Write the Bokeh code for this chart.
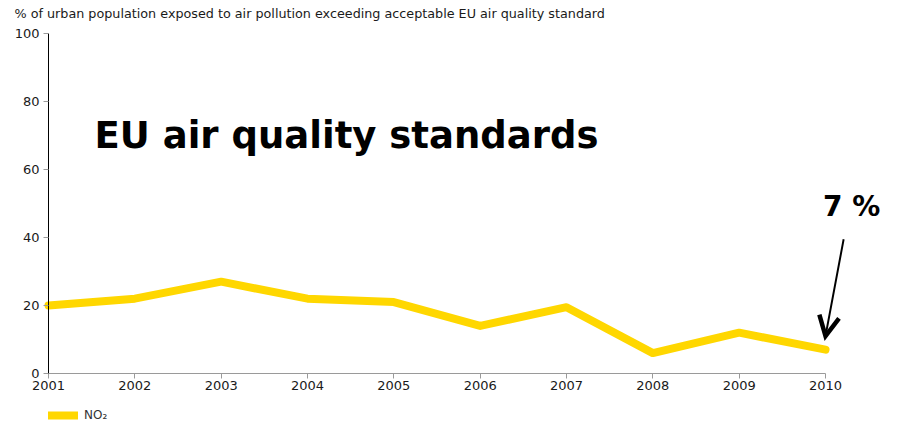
from bokeh.plotting import figure
from bokeh.models import (Range1d, Label, Arrow, OpenHead, Legend, LegendItem,
                          FixedTicker)
from bokeh.embed import file_html
from bokeh.resources import INLINE

# Share of urban population exposed to NO2 above the EU standard
years = [2001, 2002, 2003, 2004, 2005, 2006, 2007, 2008, 2009, 2010]
no2_share = [20, 22, 27, 22, 21, 14, 19.5, 6, 12, 7]
y_ticks = [0, 20, 40, 60, 80, 100]

caption = "% of urban population exposed to air pollution exceeding acceptable EU air quality standard"
headline = "EU air quality standards"
series_name = "NO\u2082"

FONT = "DejaVu Sans"
TEXT = "#1a1a1a"
YELLOW = "#FFD700"

# The frame fills the whole canvas; the axes are pinned at the first year
# and at zero, leaving room around them for the caption, callout and legend.
p = figure(width=899, height=424, output_backend="svg", toolbar_location=None,
           x_range=Range1d(2000.444, 2010.857), y_range=Range1d(-15.0, 109.7),
           min_border=0)
p.outline_line_color = None
p.xgrid.grid_line_color = None
p.ygrid.grid_line_color = None
p.background_fill_color = "white"
p.border_fill_color = "white"

# x axis: grey baseline with year ticks
p.xaxis.fixed_location = 0
p.xaxis.ticker = FixedTicker(ticks=years)
p.xaxis.bounds = (years[0], years[-1])
p.xaxis.axis_line_color = "#9a9a9a"
p.xaxis.major_tick_line_color = "#9a9a9a"
p.xaxis.major_tick_out = 5
p.xaxis.major_tick_in = 0
p.xaxis.minor_tick_line_color = None
p.xaxis.major_label_text_font = FONT
p.xaxis.major_label_text_font_size = "13px"
p.xaxis.major_label_text_color = TEXT
p.xaxis.major_label_standoff = 3

# y axis: black line, grey ticks
p.yaxis.fixed_location = years[0]
p.yaxis.ticker = FixedTicker(ticks=y_ticks)
p.yaxis.bounds = (0, 100)
p.yaxis.axis_line_color = "black"
p.yaxis.major_tick_line_color = "#9a9a9a"
p.yaxis.major_tick_out = 5
p.yaxis.major_tick_in = 0
p.yaxis.minor_tick_line_color = None
p.yaxis.major_label_text_font = FONT
p.yaxis.major_label_text_font_size = "13px"
p.yaxis.major_label_text_color = TEXT
p.yaxis.major_label_standoff = 4

line = p.line(years, no2_share, line_color=YELLOW, line_width=8,
              line_cap="round", line_join="round")

# caption above the plot area
p.add_layout(Label(x=2000.606, y=105.9, text=caption,
                   text_font=FONT, text_font_size="12.75px", text_color=TEXT,
                   text_baseline="middle", text_align="left"))

# headline inside the plot area
p.add_layout(Label(x=years[0] + 0.533, y=69.9, text=headline,
                   text_font=FONT, text_font_size="37px", text_font_style="bold",
                   text_color="black", text_baseline="alphabetic"))

# callout for the latest value
p.add_layout(Label(x=years[-1] - 0.03, y=49.2, text=f"{no2_share[-1]:g} %",
                   text_font=FONT, text_font_size="28px", text_font_style="bold",
                   text_color="black", text_baseline="alphabetic"))
p.add_layout(Arrow(x_start=years[-1] + 0.21, y_start=39.5,
                   x_end=years[-1], y_end=no2_share[-1] + 4,
                   line_color="black", line_width=2,
                   end=OpenHead(size=20, line_width=4.5, line_color="black",
                                line_join="miter")))

legend = Legend(items=[LegendItem(label=series_name, renderers=[line])],
                location=(48, 2), orientation="horizontal",
                glyph_width=30, glyph_height=14, label_height=14,
                label_standoff=6, padding=0, margin=0, spacing=0,
                label_text_font=FONT, label_text_font_size="12px",
                label_text_color="#333333",
                border_line_color=None, background_fill_alpha=0)
p.add_layout(legend, "center")

open("out.html", "w").write(file_html(p, INLINE))
